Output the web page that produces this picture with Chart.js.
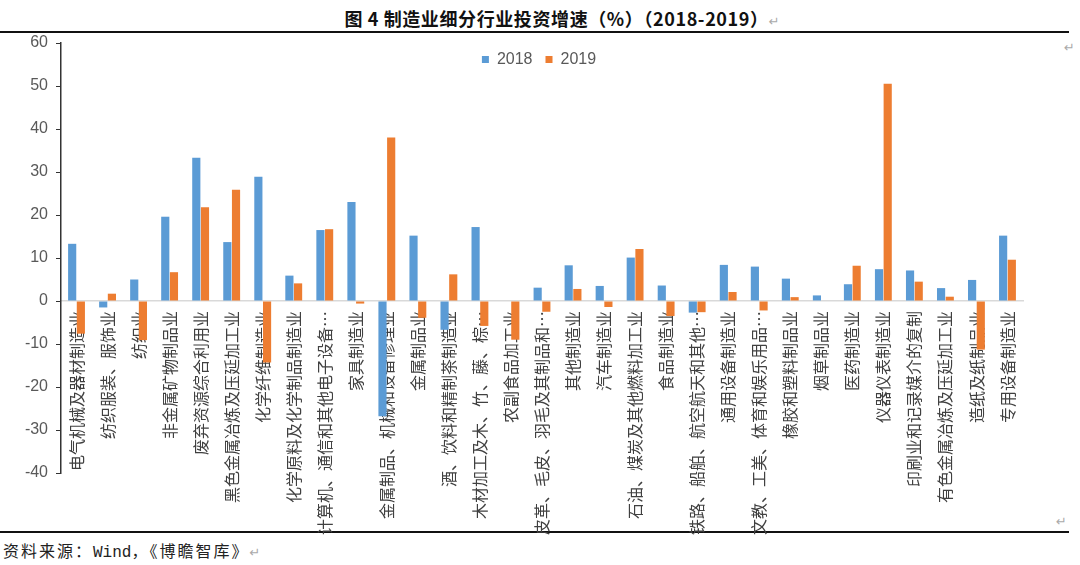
<!DOCTYPE html>
<html>
<head>
<meta charset="utf-8">
<script src="https://cdn.jsdelivr.net/npm/chart.js@4.4.0/dist/chart.umd.min.js"></script>
<style>
  body { margin: 0; background: #fff; width: 1080px; height: 565px; position: relative; overflow: hidden; }
  #title { position: absolute; top: 5px; left: 22px; width: 1080px; text-align: center; font: bold 18px "Noto Sans CJK SC"; letter-spacing: 0.6px; color: #111; }
  .mark { color: #aaa; font-weight: normal; font-family: "DejaVu Sans"; font-size: 13px; letter-spacing: 0; }
  .rule { position: absolute; left: 0; width: 1069px; height: 2px; background: #111; }
  #foot { position: absolute; top: 538px; left: 3px; font: 16px "Noto Sans CJK SC"; letter-spacing: 2px; color: #222; }
  #wrap { position: absolute; top: 0; left: 0; width: 1080px; height: 565px; }
</style>
</head>
<body>
<div id="title">图 4 制造业细分行业投资增速（%）（2018-2019）<span class="mark">↵</span></div>
<div class="rule" style="top:31px"></div>
<div class="rule" style="top:531px"></div>
<span class="mark" style="position:absolute;left:1064px;top:40px">↵</span>
<span class="mark" style="position:absolute;left:1056px;top:514px">↵</span>
<div id="foot">资料来源：<span style="font-family:'Liberation Mono';letter-spacing:0">Wind</span>，《博瞻智库》<span class="mark">↵</span></div>
<div id="wrap"><canvas id="chartCanvas"></canvas></div>
<script>
const categorias = [
  "电气机械及器材制造业", "纺织服装、服饰业", "纺织业", "非金属矿物制品业",
  "废弃资源综合利用业", "黑色金属冶炼及压延加工业", "化学纤维制造业",
  "化学原料及化学制品制造业", "计算机、通信和其他电子设备…", "家具制造业",
  "金属制品、机械和设备修理业", "金属制品业", "酒、饮料和精制茶制造业",
  "木材加工及木、竹、藤、棕…", "农副食品加工业", "皮革、毛皮、羽毛及其制品和…",
  "其他制造业", "汽车制造业", "石油、煤炭及其他燃料加工业", "食品制造业",
  "铁路、船舶、航空航天和其他…", "通用设备制造业", "文教、工美、体育和娱乐用品…",
  "橡胶和塑料制品业", "烟草制品业", "医药制造业", "仪器仪表制造业",
  "印刷业和记录媒介的复制", "有色金属冶炼及压延加工业", "造纸及纸制品业", "专用设备制造业"
];
const datos2018 = [13.3, -1.5, 5.0, 19.6, 33.3, 13.7, 28.9, 5.9, 16.5, 23.0,
  -26.8, 15.2, -6.7, 17.2, 0, 3.1, 8.3, 3.5, 10.1, 3.6,
  -2.7, 8.4, 8.0, 5.2, 1.3, 3.9, 7.4, 7.1, 3.0, 4.9, 15.2];
const datos2019 = [-7.6, 1.7, -9.1, 6.7, 21.8, 25.9, -14.3, 4.1, 16.7, -0.6,
  38.0, -3.9, 6.2, -5.8, -9.0, -2.5, 2.8, -1.4, 12.1, -3.5,
  -2.6, 2.1, -2.2, 0.9, 0, 8.2, 50.5, 4.5, 1.0, -11.3, 9.6];
const ticksY = [60, 50, 40, 30, 20, 10, 0, -10, -20, -30, -40];

// la leyenda va dentro del área del gráfico, centrada en (539, 58)
const moverLeyenda = {
  id: "moverLeyenda",
  afterLayout(chart) {
    const lg = chart.legend;
    if (!lg) return;
    const dy = (58 - lg.height / 2) - lg.top;
    const dx = 539 - (lg.left + lg.right) / 2;
    lg.top += dy;
    lg.bottom += dy;
    lg.left += dx;
    lg.right += dx;
    if (lg.adjustHitBoxes) lg.adjustHitBoxes();
  }
};

const ctx = document.getElementById("chartCanvas").getContext("2d");
const chart = new Chart(ctx, {
  type: "bar",
  data: {
    labels: categorias,
    datasets: [
      { label: "2018", data: datos2018, backgroundColor: "#5B9BD5", categoryPercentage: 0.56, barPercentage: 0.94 },
      { label: "2019", data: datos2019, backgroundColor: "#ED7D31", categoryPercentage: 0.56, barPercentage: 0.94 }
    ]
  },
  plugins: [moverLeyenda],
  options: {
    responsive: true,
    maintainAspectRatio: false,
    animation: false,
    layout: { padding: { top: 4, bottom: 92, left: 0, right: 57 } },
    plugins: {
      legend: {
        position: "top",
        align: "center",
        labels: {
          boxWidth: 7, boxHeight: 7, padding: 13,
          color: "#595959",
          font: { family: "Liberation Sans", size: 16 }
        }
      },
      tooltip: { enabled: false }
    },
    scales: {
      x: {
        position: { y: 0 },
        grid: { display: false, drawTicks: false },
        border: { display: true, color: "#D9D9D9", width: 1.5 },
        ticks: {
          autoSkip: false, minRotation: 90, maxRotation: 90, padding: 10,
          color: "#404040",
          font: { family: "Noto Sans CJK SC", size: 16 }
        },
        afterFit: (scale) => { scale.height = 0; }
      },
      y: {
        min: -40, max: 60,
        afterBuildTicks: (scale) => { scale.ticks = ticksY.map(v => ({ value: v })); },
        grid: { display: true, drawOnChartArea: false, drawTicks: true, tickLength: 5, color: "#333" },
        border: { display: true, color: "#333", width: 1.5 },
        ticks: {
          padding: 8,
          color: "#595959",
          font: { family: "Liberation Sans", size: 16 }
        },
        afterFit: (scale) => { scale.width = 61; }
      }
    }
  }
});
</script>
</body>
</html>
